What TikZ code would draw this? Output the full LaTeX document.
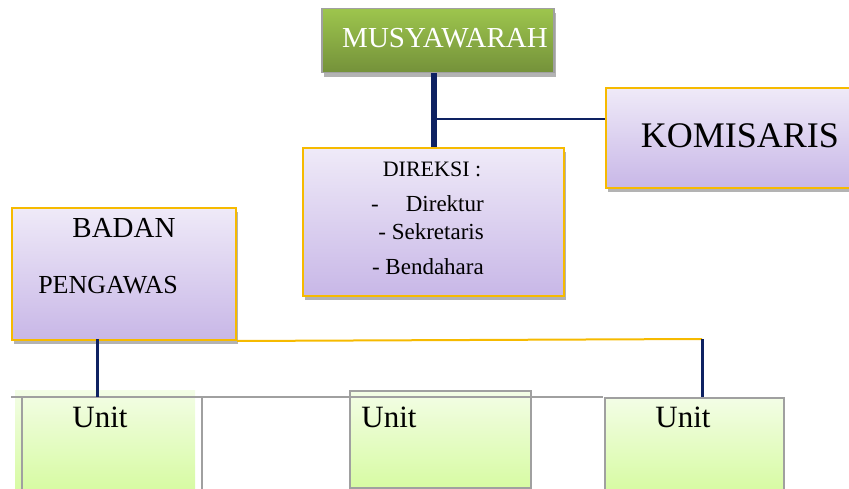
\documentclass[tikz,border=0pt]{standalone}
\usepackage{fontspec}
\setmainfont{Liberation Serif}
\usepackage{tikz}
\usetikzlibrary{positioning, shadows}
\definecolor{navyline}{HTML}{0E2262}
\definecolor{orangeedge}{HTML}{F6BA00}
\definecolor{greentop}{HTML}{9DC54D}
\definecolor{greenbot}{HTML}{74913A}
\definecolor{lavtop}{HTML}{EFEAF8}
\definecolor{lavbot}{HTML}{C8B7E7}
\definecolor{unittop}{HTML}{F3FDE6}
\definecolor{unitbot}{HTML}{D7FBA3}
\definecolor{rulegray}{HTML}{A0A0A0}
\newcommand{\setfs}[1]{\fontsize{#1}{#1}\selectfont}
\tikzset{
  boxshadow/.style={drop shadow={shadow xshift=2pt, shadow yshift=-4pt, fill=gray, opacity=0.6}},
  musybox/.style={draw=rulegray, line width=1.5pt, top color=greentop, bottom color=greenbot, boxshadow, inner sep=0pt, anchor=north west},
  purplebox/.style={draw=orangeedge, line width=2pt, top color=lavtop, bottom color=lavbot, boxshadow, inner sep=0pt, anchor=north west},
  unitbox/.style={top color=unittop, bottom color=unitbot, inner sep=0pt, anchor=north west},
  unitframe/.style={unitbox, draw=rulegray, line width=1.5pt},
  boxtext/.style={inner sep=0pt, anchor=base},
  navythick/.style={navyline, line width=6pt},
  navythin/.style={navyline, line width=1.5pt},
  orangerule/.style={orangeedge, line width=2pt},
  tablerule/.style={rulegray, line width=1.5pt}
}

\begin{document}
\begin{tikzpicture}[x=1pt, y=-1pt]
  \useasboundingbox (0,0) rectangle (849,489);

  % boxes
  \node[musybox, minimum width=232pt, minimum height=64pt] (musy) at (321,8) {};
  \node[purplebox, minimum width=261pt, minimum height=148pt] (direksi) at (302,147) {};
  \node[purplebox, minimum width=246pt, minimum height=100pt] (komisaris) at (605,87) {};
  \node[purplebox, minimum width=224pt, minimum height=132pt] (badan) at (11,207) {};
  \node[unitbox, minimum width=180pt, minimum height=99pt] (unitA) at (15,390) {};
  \node[unitframe, minimum width=181pt, minimum height=97pt] (unitB) at (349,390) {};
  \node[unitframe, minimum width=179pt, minimum height=93pt] (unitC) at (604,397) {};

  % texts
  \node[boxtext, white] (musytext) at (445,48) {\setfs{29}MUSYAWARAH};
  \node[boxtext] (dirhead) at (432,177) {\setfs{22}DIREKSI :};
  \node[boxtext, anchor=base east] (dirA) at (484,212) {\setfs{23}-\hspace{27pt}Direktur};
  \node[boxtext, anchor=base east] (dirB) at (484,240) {\setfs{23}- Sekretaris};
  \node[boxtext, anchor=base east] (dirC) at (484,274) {\setfs{23}- Bendahara};
  \node[boxtext] (komtext) at (740,148) {\setfs{36}KOMISARIS};
  \node[boxtext] (badanA) at (124,238) {\setfs{29}BADAN};
  \node[boxtext] (badanB) at (108,293) {\setfs{26}PENGAWAS};
  \node[boxtext] (unitAtext) at (100,427) {\setfs{31}Unit};
  \node[boxtext] (unitBtext) at (389,427) {\setfs{31}Unit};
  \node[boxtext] (unitCtext) at (683,427) {\setfs{31}Unit};

  % table rules round the units
  \coordinate (gridleft) at (11,397);
  \coordinate (gridright) at (603,397);
  \draw[tablerule] (gridleft) -- (gridright);
  \draw[tablerule] (22,397) -- (22,489);
  \draw[tablerule] (202,397) -- (202,489);

  % connectors
  \coordinate (komtap) at (433,119);
  \coordinate (lefttap) at (97,339);
  \coordinate (righttap) at (702,339);
  \draw[navythick] (direksi.north |- musy.south) -- (direksi.north);
  \draw[navythin] (komtap) -- (komtap -| komisaris.west);
  \draw[orangerule] (badan.south east) -- (righttap);
  \draw[navythick, line width=3pt] (lefttap) -- (lefttap |- gridleft);
  \draw[navythick, line width=3pt] (righttap) -- (righttap |- unitC.north);
\end{tikzpicture}
\end{document}
